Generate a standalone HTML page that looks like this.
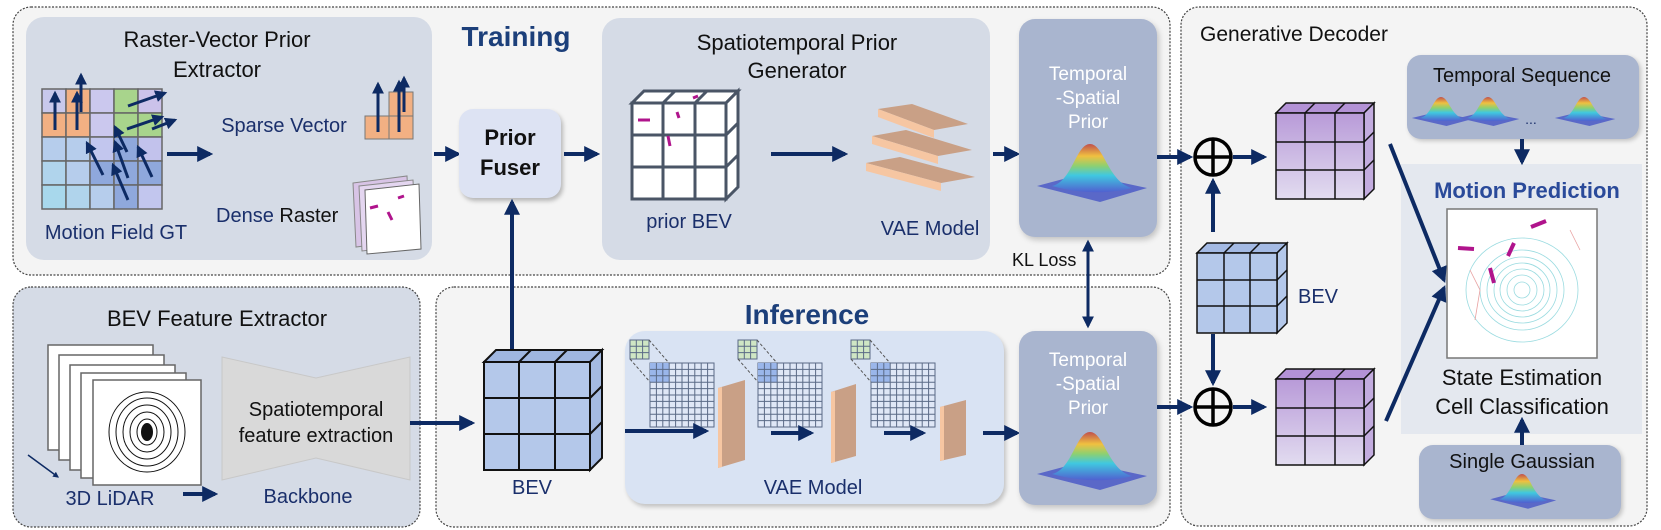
<!DOCTYPE html>
<html><head><meta charset="utf-8"><style>
html,body{margin:0;padding:0;background:#fff;}
svg{display:block;font-family:"Liberation Sans",sans-serif;}
</style></head><body>
<svg width="1661" height="530" viewBox="0 0 1661 530" xmlns="http://www.w3.org/2000/svg">
<defs>
<marker id="ah" viewBox="0 0 10 10" refX="8" refY="5" markerWidth="4" markerHeight="4" orient="auto-start-reverse"><path d="M0,0 L10,5 L0,10 Z" fill="#0d2a63"/></marker>
<linearGradient id="gpk" x1="0" y1="0" x2="0" y2="1"><stop offset="0" stop-color="#c0504d"/><stop offset="0.25" stop-color="#f0c040"/><stop offset="0.45" stop-color="#8fd070"/><stop offset="0.65" stop-color="#40c8e0"/><stop offset="1" stop-color="#5060d0"/></linearGradient>
<linearGradient id="pur" x1="0" y1="0" x2="0" y2="1"><stop offset="0" stop-color="#b89ad8"/><stop offset="1" stop-color="#e2dcf0"/></linearGradient>
<g id="gauss">
<polygon points="-53,42 -8,30 57,44 10,58" fill="#5a68c8"/>
<path d="M-38,42 C-18,38 -14,0 0,0 C14,0 18,38 42,44 C20,50 -10,50 -38,42 Z" fill="url(#gpk)"/>
</g>
</defs>

<rect x="13" y="7" width="1157" height="268" rx="18" fill="#f4f4f4" stroke="#444" stroke-width="1.2" stroke-dasharray="2,1.5"/>
<rect x="13" y="287" width="407" height="240" rx="18" fill="#d5dbe6" stroke="#444" stroke-width="1.2" stroke-dasharray="2,1.5"/>
<rect x="436" y="287" width="734" height="240" rx="18" fill="#f4f4f4" stroke="#444" stroke-width="1.2" stroke-dasharray="2,1.5"/>
<rect x="1181" y="7" width="466" height="519" rx="18" fill="#f4f4f4" stroke="#444" stroke-width="1.2" stroke-dasharray="2,1.5"/>

<rect x="26" y="17" width="406" height="243" rx="18" fill="#d5dbe6"/>
<text x="217" y="47" font-size="22" text-anchor="middle" fill="#111">Raster-Vector Prior</text>
<text x="217" y="77" font-size="22" text-anchor="middle" fill="#111">Extractor</text>
<g stroke="#666" stroke-width="1.5">
<rect x="42" y="89" width="24" height="24" fill="#c8c8ec"/><rect x="66" y="89" width="24" height="24" fill="#f2b083"/><rect x="90" y="89" width="24" height="24" fill="#cbc8ee"/><rect x="114" y="89" width="24" height="24" fill="#a8d48c"/><rect x="138" y="89" width="24" height="24" fill="#cbc2ea"/>
<rect x="42" y="113" width="24" height="24" fill="#f2b083"/><rect x="66" y="113" width="24" height="24" fill="#f2b083"/><rect x="90" y="113" width="24" height="24" fill="#cbc8ee"/><rect x="114" y="113" width="24" height="24" fill="#a8d48c"/><rect x="138" y="113" width="24" height="24" fill="#a8d48c"/>
<rect x="42" y="137" width="24" height="24" fill="#b6cdec"/><rect x="66" y="137" width="24" height="24" fill="#b6cdec"/><rect x="90" y="137" width="24" height="24" fill="#c2c6ee"/><rect x="114" y="137" width="24" height="24" fill="#8fa8dc"/><rect x="138" y="137" width="24" height="24" fill="#c2c2ec"/>
<rect x="42" y="161" width="24" height="24" fill="#b0d4ec"/><rect x="66" y="161" width="24" height="24" fill="#b6cdec"/><rect x="90" y="161" width="24" height="24" fill="#8fa8dc"/><rect x="114" y="161" width="24" height="24" fill="#8fa8dc"/><rect x="138" y="161" width="24" height="24" fill="#8fa8dc"/>
<rect x="42" y="185" width="24" height="24" fill="#a8d8ec"/><rect x="66" y="185" width="24" height="24" fill="#b0d4ec"/><rect x="90" y="185" width="24" height="24" fill="#b6cdec"/><rect x="114" y="185" width="24" height="24" fill="#8fa8dc"/><rect x="138" y="185" width="24" height="24" fill="#c2c6ee"/>
</g>
<g stroke="#0d2a63" stroke-width="3" marker-end="url(#ah)">
<line x1="55" y1="130" x2="55" y2="93"/><line x1="77" y1="130" x2="77" y2="93"/><line x1="81" y1="112" x2="81" y2="75"/>
<line x1="128" y1="106" x2="165" y2="93"/><line x1="127" y1="129" x2="162" y2="117"/><line x1="152" y1="129" x2="175" y2="120"/>
<line x1="103" y1="175" x2="87" y2="143"/><line x1="128" y1="178" x2="115" y2="142"/><line x1="127" y1="152" x2="115" y2="127"/><line x1="128" y1="200" x2="113" y2="165"/><line x1="152" y1="177" x2="138" y2="147"/>
</g>
<text x="116" y="239" font-size="20" text-anchor="middle" fill="#1a2f6b">Motion Field GT</text>
<line x1="167" y1="154" x2="210" y2="154" stroke="#0d2a63" stroke-width="4" marker-end="url(#ah)"/>
<text x="284" y="132" font-size="20" text-anchor="middle" fill="#1a2f6b">Sparse Vector</text>
<g stroke="#777" stroke-width="1"><rect x="365" y="116" width="24" height="23" fill="#f2b083"/><rect x="389" y="116" width="24" height="23" fill="#f2b083"/><rect x="389" y="92" width="24" height="24" fill="#f2b083"/></g>
<g stroke="#0d2a63" stroke-width="3" marker-end="url(#ah)"><line x1="378" y1="132" x2="378" y2="84"/><line x1="399" y1="132" x2="399" y2="82"/><line x1="404" y1="112" x2="404" y2="78"/></g>
<text x="216" y="222" font-size="20" fill="#1a2f6b">Dense <tspan fill="#111">Raster</tspan></text>
<polygon points="353,183 407,176 410,240 356,247" fill="#d8c4e6" stroke="#888"/>
<polygon points="359,186 413,180 416,245 362,251" fill="#e4d6f0" stroke="#888"/>
<polygon points="365,190 419,184 421,249 367,254" fill="#fff" stroke="#666"/>
<g stroke="#b0148c" stroke-width="3"><line x1="370" y1="208" x2="378" y2="206"/><line x1="388" y1="212" x2="392" y2="220"/><line x1="398" y1="198" x2="404" y2="196"/></g>

<text x="516" y="46" font-size="28" font-weight="bold" text-anchor="middle" fill="#1c3f7a">Training</text>
<line x1="434" y1="154" x2="458" y2="154" stroke="#0d2a63" stroke-width="4" marker-end="url(#ah)"/>
<rect x="459" y="109" width="102" height="89" rx="14" fill="#dde3f3" style="filter:drop-shadow(2px 3px 2px rgba(0,0,0,.25))"/>
<text x="510" y="145" font-size="22" font-weight="bold" text-anchor="middle" fill="#111">Prior</text>
<text x="510" y="175" font-size="22" font-weight="bold" text-anchor="middle" fill="#111">Fuser</text>
<line x1="564" y1="154" x2="597" y2="154" stroke="#0d2a63" stroke-width="4" marker-end="url(#ah)"/>
<line x1="512" y1="350" x2="512" y2="202" stroke="#0d2a63" stroke-width="4" marker-end="url(#ah)"/>

<rect x="602" y="18" width="388" height="242" rx="18" fill="#d5dbe6"/>
<text x="797" y="50" font-size="22" text-anchor="middle" fill="#111">Spatiotemporal Prior</text>
<text x="797" y="78" font-size="22" text-anchor="middle" fill="#111">Generator</text>
<g stroke="#4a5566" stroke-width="3" fill="#fff">
<polygon points="632,103 644,91 738,91 726,103"/>
<polygon points="726,103 738,91 738,187 726,199"/>
<rect x="632" y="103" width="94" height="96"/>
<line x1="663" y1="103" x2="663" y2="199"/><line x1="695" y1="103" x2="695" y2="199"/>
<line x1="632" y1="135" x2="726" y2="135"/><line x1="632" y1="167" x2="726" y2="167"/>
<line x1="675" y1="91" x2="663" y2="103"/><line x1="707" y1="91" x2="695" y2="103"/>
<line x1="726" y1="135" x2="738" y2="123"/><line x1="726" y1="167" x2="738" y2="155"/>
</g>
<g stroke="#b0148c" stroke-width="3"><line x1="638" y1="120" x2="650" y2="120"/><line x1="677" y1="112" x2="679" y2="118"/><line x1="668" y1="136" x2="670" y2="146"/><line x1="693" y1="98" x2="698" y2="96"/></g>
<text x="689" y="228" font-size="20" text-anchor="middle" fill="#1a2f6b">prior BEV</text>
<line x1="771" y1="154" x2="845" y2="154" stroke="#0d2a63" stroke-width="4" marker-end="url(#ah)"/>
<g>
<polygon points="866,163 900,157 975,177 941,183" fill="#c9a086"/><polygon points="866,163 941,183 941,191 866,171" fill="#f6c6a2"/>
<polygon points="872,136 906,130 972,150 938,156" fill="#c9a086"/><polygon points="872,136 938,156 938,164 872,144" fill="#f6c6a2"/>
<polygon points="878,109 912,104 968,124 934,130" fill="#c9a086"/><polygon points="878,109 934,130 934,138 878,117" fill="#f6c6a2"/>
</g>
<text x="930" y="235" font-size="20" text-anchor="middle" fill="#1a2f6b">VAE Model</text>
<line x1="993" y1="154" x2="1017" y2="154" stroke="#0d2a63" stroke-width="4" marker-end="url(#ah)"/>

<rect x="1019" y="19" width="138" height="218" rx="16" fill="#a9b5cf" style="filter:drop-shadow(2px 3px 3px rgba(0,0,0,.2))"/>
<text x="1088" y="80" font-size="19" text-anchor="middle" fill="#fff">Temporal</text>
<text x="1088" y="104" font-size="19" text-anchor="middle" fill="#fff">-Spatial</text>
<text x="1088" y="128" font-size="19" text-anchor="middle" fill="#fff">Prior</text>
<use href="#gauss" x="1090" y="144"/>
<text x="1012" y="266" font-size="18" fill="#111">KL Loss</text>
<line x1="1088" y1="242" x2="1088" y2="326" stroke="#0d2a63" stroke-width="3" marker-start="url(#ah)" marker-end="url(#ah)"/>

<text x="217" y="326" font-size="22" text-anchor="middle" fill="#111">BEV Feature Extractor</text>
<g stroke="#666" stroke-width="1.5" fill="#fff">
<rect x="48" y="345" width="105" height="105"/><rect x="59" y="355" width="105" height="105"/><rect x="70" y="365" width="105" height="105"/><rect x="81" y="373" width="105" height="105"/>
<rect x="93" y="380" width="108" height="105"/>
</g>
<g fill="none" stroke="#111" stroke-width="1">
<ellipse cx="147" cy="432" rx="10" ry="13"/><ellipse cx="147" cy="432" rx="17" ry="20"/><ellipse cx="147" cy="432" rx="24" ry="27"/><ellipse cx="147" cy="432" rx="31" ry="34"/><ellipse cx="147" cy="432" rx="38" ry="40"/>
</g>
<ellipse cx="147" cy="432" rx="6" ry="9" fill="#111"/>
<line x1="28" y1="455" x2="58" y2="477" stroke="#0d2a63" stroke-width="1.5" marker-end="url(#ah)"/>
<text x="110" y="505" font-size="20" text-anchor="middle" fill="#1a2f6b">3D LiDAR</text>
<line x1="183" y1="494" x2="215" y2="494" stroke="#0d2a63" stroke-width="4" marker-end="url(#ah)"/>
<polygon points="222,357 316,378 410,357 410,480 316,458 222,480" fill="#d9d9d9" stroke="#c8c8c8"/>
<text x="316" y="416" font-size="20" text-anchor="middle" fill="#111">Spatiotemporal</text>
<text x="316" y="442" font-size="20" text-anchor="middle" fill="#111">feature extraction</text>
<text x="308" y="503" font-size="20" text-anchor="middle" fill="#1a2f6b">Backbone</text>
<line x1="410" y1="423" x2="472" y2="423" stroke="#0d2a63" stroke-width="4" marker-end="url(#ah)"/>

<text x="807" y="324" font-size="28" font-weight="bold" text-anchor="middle" fill="#1c3f7a">Inference</text>
<g stroke="#111" stroke-width="2" fill="#b4c8ea">
<polygon points="484,362 496,350 602,350 590,362" fill="#9fb6e0"/>
<polygon points="590,362 602,350 602,458 590,470" fill="#a4bae2"/>
<rect x="484" y="362" width="106" height="108"/>
<line x1="519" y1="362" x2="519" y2="470"/><line x1="555" y1="362" x2="555" y2="470"/>
<line x1="484" y1="398" x2="590" y2="398"/><line x1="484" y1="434" x2="590" y2="434"/>
<line x1="531" y1="350" x2="519" y2="362"/><line x1="567" y1="350" x2="555" y2="362"/>
<line x1="590" y1="398" x2="602" y2="386"/><line x1="590" y1="434" x2="602" y2="422"/>
</g>
<text x="532" y="494" font-size="20" text-anchor="middle" fill="#1a2f6b">BEV</text>

<rect x="625" y="331" width="379" height="173" rx="20" fill="#d9e3f3" style="filter:drop-shadow(2px 3px 2px rgba(0,0,0,.2))"/>
<g id="gridset">
<rect x="650" y="363" width="64" height="64" fill="#dfe7f6" stroke="#5a6a86" stroke-width="1"/>
<rect x="650" y="363" width="19" height="19" fill="#9ab6ea"/>
<g stroke="#5a6a86" stroke-width="1">
<line x1="656.4" y1="363" x2="656.4" y2="427"/><line x1="662.8" y1="363" x2="662.8" y2="427"/><line x1="669.2" y1="363" x2="669.2" y2="427"/><line x1="675.6" y1="363" x2="675.6" y2="427"/><line x1="682" y1="363" x2="682" y2="427"/><line x1="688.4" y1="363" x2="688.4" y2="427"/><line x1="694.8" y1="363" x2="694.8" y2="427"/><line x1="701.2" y1="363" x2="701.2" y2="427"/><line x1="707.6" y1="363" x2="707.6" y2="427"/>
<line x1="650" y1="369.4" x2="714" y2="369.4"/><line x1="650" y1="375.8" x2="714" y2="375.8"/><line x1="650" y1="382.2" x2="714" y2="382.2"/><line x1="650" y1="388.6" x2="714" y2="388.6"/><line x1="650" y1="395" x2="714" y2="395"/><line x1="650" y1="401.4" x2="714" y2="401.4"/><line x1="650" y1="407.8" x2="714" y2="407.8"/><line x1="650" y1="414.2" x2="714" y2="414.2"/><line x1="650" y1="420.6" x2="714" y2="420.6"/>
</g>
<rect x="630" y="340" width="19" height="19" fill="#cfe6c4" stroke="#5a6a86"/>
<g stroke="#5a6a86" stroke-width="1"><line x1="636.3" y1="340" x2="636.3" y2="359"/><line x1="642.6" y1="340" x2="642.6" y2="359"/><line x1="630" y1="346.3" x2="649" y2="346.3"/><line x1="630" y1="352.6" x2="649" y2="352.6"/></g>
<g stroke="#555" stroke-width="1" stroke-dasharray="3,2"><line x1="649" y1="340" x2="669" y2="363"/><line x1="630" y1="359" x2="650" y2="382"/></g>
</g>
<use href="#gridset" x="108" y="0"/>
<use href="#gridset" x="221" y="0"/>
<g>
<polygon points="718,388 745,380 745,460 718,468" fill="#c9a086"/><polygon points="718,388 722,387 722,467 718,468" fill="#f6c6a2"/>
<polygon points="831,392 856,384 856,456 831,463" fill="#c9a086"/><polygon points="831,392 835,391 835,462 831,463" fill="#f6c6a2"/>
<polygon points="940,407 966,400 966,455 940,461" fill="#c9a086"/><polygon points="940,407 944,406 944,460 940,461" fill="#f6c6a2"/>
</g>
<g stroke="#0d2a63" stroke-width="4" marker-end="url(#ah)">
<line x1="625" y1="431" x2="706" y2="431"/><line x1="771" y1="433" x2="811" y2="433"/><line x1="884" y1="433" x2="923" y2="433"/><line x1="983" y1="433" x2="1017" y2="433"/>
</g>
<text x="813" y="494" font-size="20" text-anchor="middle" fill="#1a2f6b">VAE Model</text>

<rect x="1019" y="331" width="138" height="174" rx="16" fill="#a9b5cf" style="filter:drop-shadow(2px 3px 3px rgba(0,0,0,.2))"/>
<text x="1088" y="366" font-size="19" text-anchor="middle" fill="#fff">Temporal</text>
<text x="1088" y="390" font-size="19" text-anchor="middle" fill="#fff">-Spatial</text>
<text x="1088" y="414" font-size="19" text-anchor="middle" fill="#fff">Prior</text>
<use href="#gauss" x="1090" y="432"/>

<text x="1200" y="41" font-size="21" fill="#111">Generative Decoder</text>

<rect x="1407" y="55" width="232" height="84" rx="14" fill="#a9b5cf" style="filter:drop-shadow(2px 2px 2px rgba(0,0,0,.2))"/>
<text x="1522" y="82" font-size="20" text-anchor="middle" fill="#111">Temporal Sequence</text>
<g transform="translate(1441,97) scale(0.55,0.5)"><use href="#gauss"/></g>
<g transform="translate(1488,97) scale(0.55,0.5)"><use href="#gauss"/></g>
<g transform="translate(1584,97) scale(0.55,0.5)"><use href="#gauss"/></g>
<text x="1531" y="124" font-size="14" text-anchor="middle" fill="#1a2f6b">...</text>

<rect x="1401" y="164" width="241" height="270" fill="#e4e8ef"/>
<text x="1527" y="198" font-size="22" font-weight="bold" text-anchor="middle" fill="#2a4a9a">Motion Prediction</text>
<rect x="1447" y="209" width="150" height="149" fill="#fff" stroke="#777" stroke-width="1.5"/>
<g fill="none" stroke="#9adbe0" stroke-width="0.8"><ellipse cx="1522" cy="290" rx="8" ry="8"/><ellipse cx="1522" cy="290" rx="15" ry="15"/><ellipse cx="1522" cy="290" rx="22" ry="21"/><ellipse cx="1522" cy="290" rx="28" ry="27"/><ellipse cx="1522" cy="290" rx="35" ry="33"/><ellipse cx="1522" cy="290" rx="42" ry="40"/><ellipse cx="1522" cy="290" rx="56" ry="52"/></g>
<g stroke="#e8a0a0" stroke-width="0.8" fill="none"><path d="M1470,270 l10,20 l-5,30"/><path d="M1570,230 l10,20"/></g>
<g stroke="#b0148c" stroke-width="4"><line x1="1458" y1="248" x2="1474" y2="249"/><line x1="1514" y1="243" x2="1508" y2="256"/><line x1="1531" y1="227" x2="1546" y2="221"/><line x1="1490" y1="268" x2="1494" y2="283"/></g>
<text x="1522" y="385" font-size="22" text-anchor="middle" fill="#111">State Estimation</text>
<text x="1522" y="414" font-size="22" text-anchor="middle" fill="#111">Cell Classification</text>
<rect x="1419" y="445" width="202" height="74" rx="14" fill="#a9b5cf" style="filter:drop-shadow(2px 2px 2px rgba(0,0,0,.2))"/>
<text x="1522" y="468" font-size="20" text-anchor="middle" fill="#111">Single Gaussian</text>
<g transform="translate(1522,474) scale(0.6,0.6)"><use href="#gauss"/></g>

<g stroke="#0d2a63" stroke-width="4" marker-end="url(#ah)">
<line x1="1157" y1="157" x2="1190" y2="157"/><line x1="1157" y1="407" x2="1190" y2="407"/>
<line x1="1233" y1="157" x2="1264" y2="157"/><line x1="1233" y1="407" x2="1264" y2="407"/>
<line x1="1213" y1="232" x2="1213" y2="181"/><line x1="1213" y1="334" x2="1213" y2="383"/>
<line x1="1522" y1="139" x2="1522" y2="162"/><line x1="1522" y1="445" x2="1522" y2="420"/>
<line x1="1390" y1="144" x2="1444" y2="280"/><line x1="1386" y1="421" x2="1444" y2="288"/>
</g>
<g fill="none" stroke="#000" stroke-width="3.5">
<circle cx="1213" cy="157" r="18"/><line x1="1195" y1="157" x2="1231" y2="157"/><line x1="1213" y1="139" x2="1213" y2="175"/>
<circle cx="1213" cy="407" r="18"/><line x1="1195" y1="407" x2="1231" y2="407"/><line x1="1213" y1="389" x2="1213" y2="425"/>
</g>
<g id="pcube" stroke="#111" stroke-width="1.5">
<polygon points="1276,113 1286,103 1374,103 1364,113" fill="#b392d6"/>
<polygon points="1364,113 1374,103 1374,189 1364,199" fill="#c3acdf"/>
<rect x="1276" y="113" width="88" height="86" fill="url(#pur)"/>
<g fill="none"><line x1="1305" y1="113" x2="1305" y2="199"/><line x1="1335" y1="113" x2="1335" y2="199"/>
<line x1="1276" y1="142" x2="1364" y2="142"/><line x1="1276" y1="170" x2="1364" y2="170"/>
<line x1="1315" y1="103" x2="1305" y2="113"/><line x1="1345" y1="103" x2="1335" y2="113"/>
<line x1="1364" y1="142" x2="1374" y2="132"/><line x1="1364" y1="170" x2="1374" y2="160"/></g>
</g>
<use href="#pcube" x="0" y="266"/>
<g stroke="#111" stroke-width="1.5" fill="#b4c8ea">
<polygon points="1197,253 1207,243 1287,243 1277,253" fill="#a4bae4"/>
<polygon points="1277,253 1287,243 1287,323 1277,333"/>
<rect x="1197" y="253" width="80" height="80"/>
<line x1="1224" y1="253" x2="1224" y2="333"/><line x1="1250" y1="253" x2="1250" y2="333"/>
<line x1="1197" y1="280" x2="1277" y2="280"/><line x1="1197" y1="306" x2="1277" y2="306"/>
<line x1="1234" y1="243" x2="1224" y2="253"/><line x1="1260" y1="243" x2="1250" y2="253"/>
<line x1="1277" y1="280" x2="1287" y2="270"/><line x1="1277" y1="306" x2="1287" y2="296"/>
</g>
<text x="1298" y="303" font-size="20" fill="#1a2f6b">BEV</text>
</svg>
</body></html>
